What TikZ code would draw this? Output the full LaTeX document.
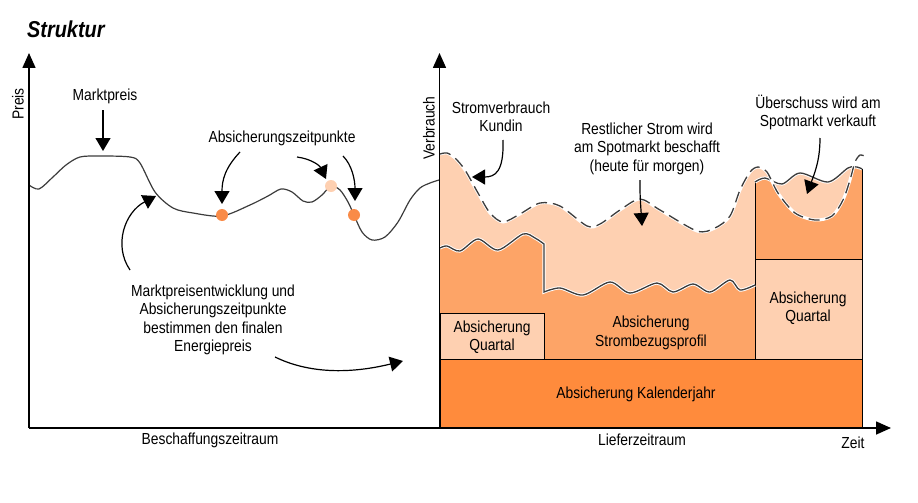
\documentclass[tikz,border=0pt]{standalone}
\usepackage{fontspec}
\setmainfont{Liberation Sans}[FakeStretch=0.865]
\usetikzlibrary{arrows.meta}
\definecolor{dkor}{HTML}{FF8B3C}
\definecolor{mdor}{HTML}{FDA467}
\definecolor{ltor}{HTML}{FED0B1}
\definecolor{dotor}{HTML}{F98B48}
\definecolor{curvegray}{HTML}{3C3C3C}
\tikzset{
  lbl/.style={font=\fontsize{16}{18.5}\selectfont, align=center, inner sep=0pt},
  axis/.style={line width=1.6pt, -{Triangle[length=15pt,width=13pt]}},
  pointer/.style={line width=1.2pt, -{Triangle[length=13pt,width=15pt]}},
  halo/.style={white, line width=3.2pt},
  wave/.style={curvegray, line width=1.3pt},
  boxline/.style={black, line width=0.9pt},
}
\def\dashedpts{(440,154) (447,153) (455,158) (465,170) (478,193) (490,213) (503,222) (520,214) (540,203) (560,206) (587,226) (600,224) (620,210) (640,199) (660,210) (697,231) (715,228) (730,216) (740,190) (750,172) (758,167) (767,172) (778,193) (795,213) (815,220) (832,216) (843,200) (850,180) (855,162) (860,155) (864,156)}
\def\boxtoppts{(755,182) (765,178) (782,184) (800,173) (828,182) (848,168) (857,167) (862,169)}
\def\wavepta{(440,248) (447,246) (460,251) (478,239) (498,250) (523,234) (535,238) (544,244)}
\def\waveptb{(544,292) (560,288) (583,295) (610,282) (630,293) (657,283) (673,292) (693,284) (710,292) (730,280) (740,290) (755,285)}
\begin{document}
\begin{tikzpicture}[x=1pt,y=-1pt]
\useasboundingbox (0,0) rectangle (918,503);
% ---------------- right: fills
\begin{scope}
  \clip (440,0) rectangle (848,428);
  \fill[ltor] (440,428) -- plot[smooth] coordinates {\dashedpts} -- (864,428) -- cycle;
\end{scope}
% right upper box
\fill[ltor] (755,259) -- plot[smooth] coordinates {\boxtoppts} -- (862,259) -- cycle;
\begin{scope}
  \clip (755,259) -- plot[smooth] coordinates {\boxtoppts} -- (862,259) -- cycle;
  \fill[mdor] (740,300) -- plot[smooth] coordinates {\dashedpts} -- (870,156) -- (870,300) -- cycle;
\end{scope}
% left medium region
\fill[mdor] (440,428) -- plot[smooth] coordinates {\wavepta} -- plot[smooth] coordinates {\waveptb} -- (755,428) -- cycle;
% boxes
\node[boxline, draw, fill=ltor, minimum width=104pt, minimum height=46pt, inner sep=0pt] (q1) at (492,336) {};
\node[boxline, draw, fill=ltor, minimum width=107pt, minimum height=100pt, inner sep=0pt] (q2) at (808.5,309) {};
\node[boxline, draw, fill=dkor, minimum width=422pt, minimum height=69pt, inner sep=0pt] (kj) at (651,393.5) {};
\draw[boxline] (755,259) -- (755,182);
\draw[boxline] (862,259) -- (862,169);
% wavy lines with halo
\draw[halo] plot[smooth] coordinates {\wavepta} -- plot[smooth] coordinates {\waveptb};
\draw[wave] plot[smooth] coordinates {\wavepta} -- plot[smooth] coordinates {\waveptb};
\draw[halo] plot[smooth] coordinates {\boxtoppts};
\draw[wave] plot[smooth] coordinates {\boxtoppts};
% dashed consumption
\draw[white, line width=3pt] plot[smooth] coordinates {\dashedpts};
\draw[curvegray, line width=1.3pt, dash pattern=on 11pt off 6pt] plot[smooth] coordinates {\dashedpts};
% box labels
\node[lbl] (lq1) at (492,337) {Absicherung\\Quartal};
\node[lbl] (lsp) at (651,333) {Absicherung\\Strombezugsprofil};
\node[lbl] (lq2) at (808,308) {Absicherung\\Quartal};
\node[lbl] (lkj) at (636,394) {Absicherung Kalenderjahr};
% ---------------- left: price curve
\draw[curvegray, line width=1.2pt] plot[smooth] coordinates {(29,185) (39,189) (53,177) (66,165) (80,157) (100,156) (130,157) (140,163) (155,192) (173,208) (193,213) (222,216) (250,205) (268,196) (281,189) (292,192) (303,201) (312,202) (322,195) (331,186) (340,190) (348,202) (354,215) (362,232) (372,240) (385,237) (398,222) (410,200) (420,188) (430,183) (439,180)};
\node[circle, fill=dotor, minimum size=12pt, inner sep=0pt] (d1) at (222,215) {};
\node[circle, fill=ltor, minimum size=12pt, inner sep=0pt] (d2) at (331,186) {};
\node[circle, fill=dotor, minimum size=12pt, inner sep=0pt] (d3) at (354,215) {};
% ---------------- axes
\coordinate (o1) at (29,428);
\coordinate (y1) at (29,53);
\coordinate (o2) at (439.5,428);
\coordinate (y2) at (439.5,53);
\coordinate (xe) at (891,428);
\draw[axis] (o1) -- (y1);
\draw[axis] (o2) -- (y2);
\draw[axis] (o1) -- (xe);
% ---------------- texts
\node[font=\fontsize{23}{25}\selectfont\bfseries\itshape, inner sep=0pt, anchor=west] (title) at (27,29) {Struktur};
\node[lbl, rotate=90] (preis) at (18,104) {Preis};
\node[lbl, rotate=90] (verb) at (429,128) {Verbrauch};
\node[lbl] (mp) at (105,96) {Marktpreis};
\node[lbl] (azp) at (282,138) {Absicherungszeitpunkte};
\node[lbl] (mpe) at (213,320) {Marktpreisentwicklung und\\Absicherungszeitpunkte\\bestimmen den finalen\\Energiepreis};
\node[lbl] (bz) at (210,440) {Beschaffungszeitraum};
\node[lbl] (lz) at (642,440) {Lieferzeitraum};
\node[lbl] (zeit) at (853,443) {Zeit};
\node[lbl] (svk) at (501,117) {Stromverbrauch\\Kundin};
\node[lbl] (rs) at (647,148.5) {Restlicher Strom wird\\am Spotmarkt beschafft\\(heute für morgen)};
\node[lbl] (ue) at (818,112.5) {Überschuss wird am\\Spotmarkt verkauft};
% ---------------- pointers
\coordinate (mpA) at (103,110); \coordinate (mpB) at (103,151);
\draw[pointer] (mpA) -- (mpB);
\coordinate (a1s) at (240,152); \coordinate (a1e) at (222,204);
\draw[pointer] (a1s) .. controls (225,168) and (222,180) .. (a1e);
\coordinate (a2s) at (297,157); \coordinate (a2e) at (326,179);
\draw[pointer] (a2s) .. controls (312,159) and (320,166) .. (a2e);
\coordinate (a3s) at (343,156); \coordinate (a3e) at (355,201);
\draw[pointer] (a3s) .. controls (352,165) and (355,180) .. (a3e);
\coordinate (a4s) at (130,270); \coordinate (a4e) at (156,196);
\draw[pointer] (a4s) .. controls (113,245) and (125,212) .. (a4e);
\coordinate (a5s) at (275,357); \coordinate (a5e) at (403,361);
\draw[pointer] (a5s) .. controls (320,379) and (370,369) .. (a5e);
\coordinate (a6s) at (503,140); \coordinate (a6e) at (472,177);
\draw[pointer] (a6s) .. controls (504,172) and (495,177) .. (a6e);
\coordinate (a7s) at (640,180); \coordinate (a7e) at (642,226);
\draw[pointer] (a7s) .. controls (640,195) .. (a7e);
\coordinate (a8s) at (820,138); \coordinate (a8e) at (807,194);
\draw[pointer] (a8s) .. controls (820,160) and (815,172) .. (a8e);
\end{tikzpicture}
\end{document}
